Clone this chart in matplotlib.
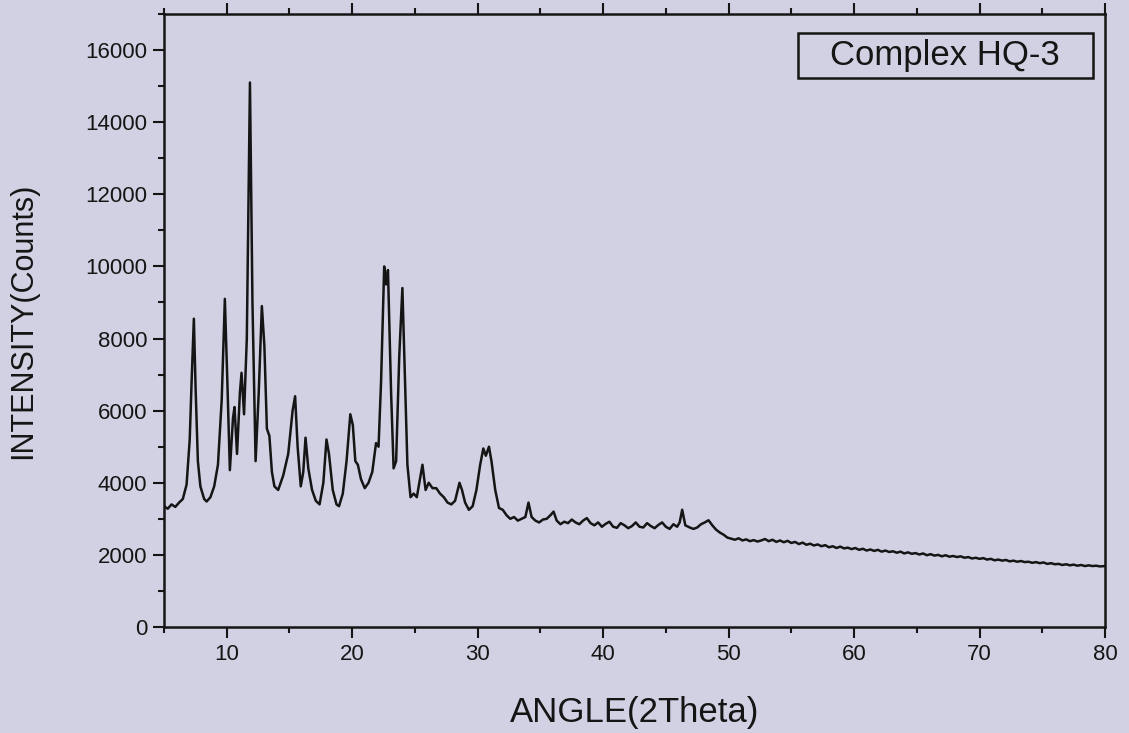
import matplotlib

matplotlib.use("Agg")
import matplotlib.pyplot as plt
from matplotlib.patches import Rectangle
from matplotlib.ticker import MultipleLocator

# ── data: (2theta, counts) ──────────────────────────────────────────────────
low_angle = [
    (5.0, 3350), (5.3, 3280), (5.6, 3400), (5.9, 3330), (6.2, 3450), (6.5, 3550),
    (6.8, 3950), (7.05, 5200), (7.2, 6800), (7.38, 8550), (7.52, 6600), (7.7, 4600),
    (7.9, 3900), (8.2, 3550), (8.4, 3480), (8.7, 3600), (9.0, 3900), (9.3, 4500),
    (9.6, 6300), (9.85, 9100), (10.05, 6800), (10.25, 4350), (10.5, 5800),
    (10.62, 6100), (10.82, 4800), (11.05, 6500), (11.18, 7050), (11.38, 5900),
    (11.6, 8000), (11.85, 15100), (12.05, 9000), (12.3, 4600), (12.55, 6500),
    (12.8, 8900), (13.0, 7800), (13.2, 5500), (13.4, 5300), (13.6, 4300),
    (13.8, 3900), (14.1, 3800), (14.5, 4200), (14.9, 4800), (15.25, 6000),
    (15.45, 6400), (15.65, 5000), (15.9, 3900), (16.1, 4300), (16.28, 5250),
    (16.5, 4400), (16.8, 3800), (17.1, 3500), (17.4, 3400), (17.7, 4000),
    (17.95, 5200), (18.15, 4800), (18.45, 3800), (18.75, 3400), (18.95, 3350),
    (19.25, 3700), (19.55, 4600), (19.85, 5900), (20.05, 5600), (20.25, 4600),
    (20.45, 4500), (20.7, 4100), (21.0, 3850), (21.3, 4000), (21.6, 4300),
    (21.9, 5100), (22.1, 5000), (22.3, 6800), (22.55, 10000), (22.7, 9500),
    (22.85, 9900), (23.1, 6500), (23.3, 4400), (23.5, 4600), (23.75, 7500),
    (24.0, 9400), (24.2, 7000), (24.4, 4500), (24.65, 3600), (24.9, 3700),
]
mid_angle = [
    (25.15, 3600), (25.35, 4000), (25.6, 4500), (25.85, 3800), (26.1, 4000),
    (26.4, 3850), (26.7, 3850), (27.0, 3700), (27.3, 3600), (27.6, 3450),
    (27.9, 3400), (28.2, 3500), (28.55, 4000), (28.75, 3800), (29.0, 3450),
    (29.3, 3250), (29.6, 3350), (29.9, 3800), (30.2, 4500), (30.45, 4950),
    (30.65, 4750), (30.9, 5000), (31.1, 4600), (31.4, 3800), (31.7, 3300),
    (32.0, 3250), (32.3, 3100), (32.6, 3000), (32.9, 3050), (33.2, 2950),
    (33.5, 3000), (33.8, 3050), (34.05, 3450), (34.3, 3050), (34.6, 2950),
    (34.9, 2900), (35.2, 2980), (35.5, 3000), (35.8, 3100), (36.05, 3200),
    (36.3, 2950), (36.6, 2850), (36.9, 2920), (37.2, 2880), (37.5, 2980),
    (37.8, 2900), (38.1, 2850), (38.4, 2950), (38.7, 3020), (39.0, 2880),
    (39.3, 2820), (39.6, 2900), (39.9, 2780), (40.2, 2860), (40.5, 2920),
    (40.8, 2780), (41.1, 2750), (41.4, 2880), (41.7, 2820), (42.0, 2740),
    (42.3, 2800), (42.6, 2900), (42.9, 2780), (43.2, 2760), (43.5, 2880),
    (43.8, 2800), (44.1, 2740), (44.4, 2830), (44.7, 2900), (45.0, 2780),
    (45.3, 2720), (45.6, 2850), (45.9, 2780), (46.1, 2900), (46.3, 3250),
    (46.55, 2820), (46.9, 2760), (47.2, 2720), (47.5, 2760), (47.8, 2850),
    (48.1, 2900), (48.4, 2960), (48.7, 2820), (49.0, 2700), (49.3, 2620),
    (49.6, 2560), (49.9, 2480),
]
high_angle = [
    (50.2, 2450), (50.5, 2420), (50.8, 2460), (51.1, 2400), (51.4, 2430),
    (51.7, 2380), (52.0, 2410), (52.3, 2370), (52.6, 2400), (52.9, 2440),
    (53.2, 2380), (53.5, 2420), (53.8, 2360), (54.1, 2400), (54.4, 2350),
    (54.7, 2390), (55.0, 2330), (55.3, 2360), (55.6, 2300), (55.9, 2340),
    (56.2, 2280), (56.5, 2310), (56.8, 2260), (57.1, 2290), (57.4, 2240),
    (57.7, 2270), (58.0, 2210), (58.3, 2240), (58.6, 2190), (58.9, 2230),
    (59.2, 2180), (59.5, 2200), (59.8, 2160), (60.1, 2190), (60.4, 2140),
    (60.7, 2170), (61.0, 2120), (61.3, 2150), (61.6, 2110), (61.9, 2140),
    (62.2, 2090), (62.5, 2120), (62.8, 2080), (63.1, 2100), (63.4, 2060),
    (63.7, 2090), (64.0, 2040), (64.3, 2070), (64.6, 2030), (64.9, 2050),
    (65.2, 2010), (65.5, 2040), (65.8, 1990), (66.1, 2020), (66.4, 1980),
    (66.7, 2000), (67.0, 1960), (67.3, 1990), (67.6, 1950), (67.9, 1970),
    (68.2, 1940), (68.5, 1960), (68.8, 1920), (69.1, 1940), (69.4, 1900),
    (69.7, 1920), (70.0, 1890), (70.3, 1910), (70.6, 1870), (70.9, 1890),
    (71.2, 1850), (71.5, 1870), (71.8, 1840), (72.1, 1860), (72.4, 1820),
    (72.7, 1840), (73.0, 1810), (73.3, 1830), (73.6, 1800), (73.9, 1810),
    (74.2, 1780), (74.5, 1800), (74.8, 1770), (75.1, 1790), (75.4, 1750),
    (75.7, 1770), (76.0, 1740), (76.3, 1750), (76.6, 1720), (76.9, 1740),
    (77.2, 1710), (77.5, 1730), (77.8, 1700), (78.1, 1720), (78.4, 1690),
    (78.7, 1710), (79.0, 1690), (79.3, 1700), (79.6, 1680), (80.0, 1690),
]
sample_label = "Complex HQ-3"
x_label = "ANGLE(2Theta)"
y_label = "INTENSITY(Counts)"

W, H = 1129, 733
BG = "#d2d1e3"
INK = "#151515"

scan = low_angle + mid_angle + high_angle
angle = [a for a, _ in scan]
intensity = [c for _, c in scan]

plt.rcParams["font.family"] = ["Liberation Sans", "DejaVu Sans"]

fig = plt.figure(figsize=(W / 100, H / 100), dpi=100, facecolor=BG)
ax = fig.add_axes([164 / W, 1 - 627 / H, 941 / W, 613 / H], facecolor=BG)

ax.plot(angle, intensity, color=INK, linewidth=1.8)

ax.set_xlim(5, 80)
ax.set_ylim(0, 17000)
ax.xaxis.set_major_locator(MultipleLocator(10))
ax.xaxis.set_minor_locator(MultipleLocator(5))
ax.yaxis.set_major_locator(MultipleLocator(2000))
ax.yaxis.set_minor_locator(MultipleLocator(1000))
ax.tick_params(which="both", direction="out", top=True, right=False, color=INK, width=1.5)
ax.tick_params(which="major", length=8, labelsize=16, labelcolor=INK, pad=4)
ax.tick_params(which="minor", length=4)
for s in ax.spines.values():
    s.set_linewidth(1.8)
    s.set_color(INK)

ax.set_xlabel(x_label, fontsize=25, color=INK)
ax.xaxis.set_label_coords(0.5, -0.112)
ax.set_ylabel(y_label, fontsize=22, color=INK)
ax.yaxis.set_label_coords(-0.134, 0.5)

ax.add_patch(Rectangle((0.674, 0.896), 0.313, 0.073, transform=ax.transAxes,
                       fill=False, edgecolor=INK, linewidth=1.8))
ax.text(0.83, 0.932, sample_label, transform=ax.transAxes, fontsize=25,
        color=INK, ha="center", va="center")

fig.savefig("out.png", dpi=100, facecolor=BG)
